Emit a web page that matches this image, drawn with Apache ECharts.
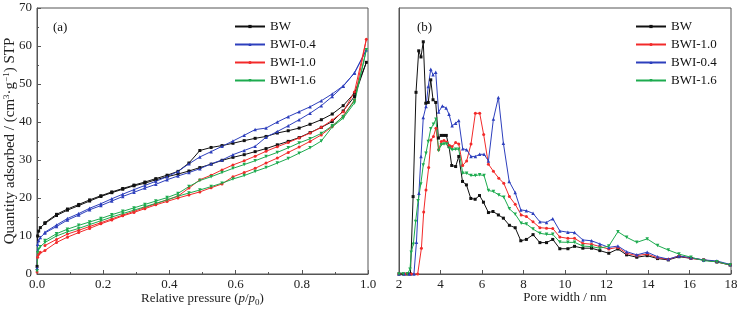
<!DOCTYPE html>
<html>
<head>
<meta charset="utf-8">
<script src="https://cdn.jsdelivr.net/npm/echarts@6/dist/echarts.min.js"></script>
<style>
html, body { margin: 0; padding: 0; background: #fff; }
#chartDiv { width: 741px; height: 309px; }
</style>
</head>
<body>
<div id="chartDiv"></div>
<script>
// (a) 吸附等温线：吸附支压力点
const pAds = [0.0002, 0.002, 0.005, 0.01, 0.024, 0.059, 0.092, 0.126, 0.159, 0.193, 0.226, 0.259, 0.293, 0.326, 0.359, 0.393, 0.426, 0.459, 0.492, 0.526, 0.559, 0.592, 0.626, 0.659, 0.692, 0.726, 0.759, 0.792, 0.825, 0.859, 0.892, 0.925, 0.959, 0.995]
// 脱附支压力点（从高到低）
const pDes = [0.959, 0.925, 0.892, 0.859, 0.825, 0.792, 0.759, 0.726, 0.692, 0.659, 0.626, 0.592, 0.559, 0.526, 0.492, 0.459, 0.426, 0.393, 0.359, 0.326, 0.293, 0.259, 0.226, 0.193, 0.159, 0.126, 0.092, 0.059, 0.024]

const bwAds = [2.0, 10.0, 11.3, 12.2, 13.3, 15.4, 16.8, 18.0, 19.2, 20.4, 21.4, 22.3, 23.2, 23.9, 24.8, 25.6, 26.3, 27.1, 28.0, 28.9, 29.9, 30.7, 31.4, 32.2, 33.0, 34.0, 34.9, 35.9, 37.2, 38.6, 40.1, 42.9, 46.7, 55.7]
const bwDes = [47.6, 44.3, 42.1, 40.6, 39.4, 38.4, 37.7, 37.1, 36.2, 35.7, 35.1, 34.4, 33.8, 33.3, 32.5, 29.2, 27.0, 26.0, 25.1, 24.2, 23.4, 22.5, 21.6, 20.6, 19.5, 18.3, 17.1, 15.7, 13.5]

const bwi04Ads = [1.5, 7.8, 8.8, 9.6, 10.8, 12.5, 14.2, 15.5, 16.9, 18.0, 19.2, 20.4, 21.5, 22.6, 23.6, 24.8, 25.8, 26.7, 27.7, 29.0, 30.0, 31.4, 32.5, 33.6, 36.0, 37.5, 39.0, 40.6, 42.3, 44.3, 46.7, 49.4, 52.9, 59.0]
const bwi04Des = [52.9, 49.5, 47.4, 45.6, 44.0, 42.7, 41.4, 40.0, 38.4, 38.0, 36.5, 35.0, 33.6, 32.2, 30.8, 29.0, 27.0, 25.6, 24.4, 23.3, 22.2, 21.0, 19.8, 18.5, 17.3, 15.9, 14.6, 12.9, 11.0]

const bwi10Ads = [0.5, 4.4, 5.2, 5.7, 6.2, 8.3, 9.7, 10.9, 12.0, 13.2, 14.2, 15.3, 16.2, 17.2, 18.2, 19.1, 20.0, 20.8, 21.6, 22.7, 23.7, 25.6, 26.7, 27.8, 29.2, 30.5, 32.0, 33.4, 34.9, 36.6, 38.8, 41.6, 45.8, 61.8]
const bwi10Des = [47.9, 42.7, 40.5, 38.6, 37.1, 35.8, 34.6, 33.5, 32.3, 31.0, 29.8, 28.7, 27.4, 26.0, 24.8, 22.6, 20.5, 19.5, 18.5, 17.5, 16.5, 15.5, 14.5, 13.5, 12.5, 11.5, 10.5, 9.1, 7.5]

const bwi16Ads = [0.8, 5.6, 6.5, 7.2, 8.3, 10.0, 11.1, 12.0, 13.0, 14.0, 15.0, 15.9, 16.8, 17.7, 18.6, 19.5, 20.5, 21.3, 22.1, 23.0, 23.9, 25.0, 25.9, 27.0, 28.0, 29.2, 30.4, 31.8, 33.2, 35.0, 38.7, 41.0, 45.0, 59.0]
const bwi16Des = [45.6, 41.4, 39.0, 37.0, 35.6, 34.5, 33.2, 32.0, 30.9, 29.8, 28.8, 27.8, 26.7, 25.6, 24.6, 23.0, 21.2, 20.1, 19.2, 18.3, 17.4, 16.5, 15.6, 14.6, 13.7, 12.8, 11.8, 10.6, 8.8]

// (b) 孔径分布
const bwW = [2.0, 2.2, 2.4, 2.55, 2.68, 2.82, 2.95, 3.06, 3.17, 3.29, 3.41, 3.53, 3.64, 3.77, 3.90, 4.03, 4.15, 4.28, 4.41, 4.54, 4.73, 4.88, 5.06, 5.25, 5.46, 5.67, 5.88, 6.07, 6.31, 6.53, 6.79, 7.03, 7.32, 7.60, 7.87, 8.14, 8.46, 8.79, 9.11, 9.41, 9.75, 10.14, 10.46, 10.86, 11.28, 11.68, 12.11, 12.55, 12.97, 13.46, 13.96, 14.46, 14.98, 15.49, 16.07, 16.68, 17.32, 17.96]
const bwPsd = [0, 0, 0, 0, 29.1, 68.3, 83.9, 81.6, 87.3, 64.2, 64.5, 73.0, 65.5, 64.5, 51.1, 52.1, 52.1, 52.1, 47.9, 40.8, 40.4, 44.2, 34.8, 33.5, 28.4, 28.1, 29.5, 27.0, 23.1, 23.5, 22.2, 21.0, 18.3, 17.4, 12.5, 13.0, 14.8, 11.8, 11.8, 13.0, 9.5, 9.5, 10.4, 9.7, 9.7, 8.8, 7.8, 9.4, 7.2, 6.3, 6.9, 5.8, 5.3, 6.5, 5.9, 5.3, 4.5, 3.4]

const bwi10W = [2.0, 2.3, 2.6, 2.9, 3.08, 3.19, 3.30, 3.43, 3.54, 3.66, 3.78, 3.91, 4.04, 4.17, 4.30, 4.43, 4.56, 4.73, 4.88, 5.07, 5.26, 5.47, 5.68, 5.89, 6.08, 6.31, 6.55, 6.81, 7.05, 7.32, 7.60, 7.89, 8.14, 8.46, 8.79, 9.11, 9.41, 9.75, 10.14, 10.46, 10.86, 11.28, 11.68, 12.11, 12.55, 12.97, 13.46, 13.96, 14.46, 14.98, 15.49, 16.07, 16.68, 17.32, 17.96]
const bwi10Psd = [0, 0, 0, 0, 9.7, 23.3, 31.6, 40.0, 50.4, 51.7, 54.8, 46.7, 49.8, 50.2, 49.6, 48.3, 47.9, 49.4, 48.9, 40.8, 42.5, 48.9, 60.4, 60.4, 52.4, 41.3, 38.6, 36.0, 34.1, 29.1, 26.2, 22.2, 21.6, 19.6, 17.4, 17.2, 17.1, 13.9, 13.4, 13.4, 11.5, 11.2, 10.3, 9.4, 10.0, 7.8, 6.9, 7.5, 6.1, 5.5, 6.8, 5.9, 5.3, 4.6, 3.4]

const bwi04W = [2.0, 2.25, 2.5, 2.72, 2.84, 2.96, 3.06, 3.17, 3.30, 3.41, 3.53, 3.64, 3.77, 3.91, 4.09, 4.27, 4.41, 4.56, 4.73, 4.88, 5.07, 5.26, 5.47, 5.68, 5.89, 6.10, 6.31, 6.55, 6.79, 7.03, 7.31, 7.60, 7.87, 8.14, 8.46, 8.79, 9.11, 9.41, 9.75, 10.14, 10.46, 10.86, 11.28, 11.68, 12.11, 12.55, 12.97, 13.46, 13.96, 14.46, 14.98, 15.49, 16.07, 16.68, 17.32, 17.96]
const bwi04Psd = [0, 0, 0, 0, 11.9, 30.4, 44.2, 58.8, 63.0, 70.5, 77.0, 74.9, 75.8, 60.9, 63.2, 62.4, 60.1, 55.7, 56.7, 57.7, 47.1, 46.7, 44.2, 44.2, 45.0, 45.0, 42.5, 58.3, 66.4, 49.2, 34.8, 30.6, 24.1, 23.8, 22.8, 19.6, 19.4, 20.8, 16.2, 15.7, 15.6, 12.8, 12.5, 11.3, 10.0, 10.5, 8.4, 7.2, 8.2, 6.5, 5.6, 6.8, 6.1, 5.3, 4.9, 3.6]

const bwi16W = [2.0, 2.2, 2.4, 2.53, 2.59, 2.69, 2.80, 2.92, 3.05, 3.17, 3.30, 3.41, 3.53, 3.66, 3.78, 3.91, 4.04, 4.17, 4.30, 4.43, 4.56, 4.73, 4.88, 5.07, 5.26, 5.47, 5.68, 5.89, 6.10, 6.31, 6.55, 6.81, 7.05, 7.32, 7.60, 7.89, 8.14, 8.46, 8.79, 9.11, 9.41, 9.75, 10.14, 10.46, 10.86, 11.28, 11.68, 12.11, 12.55, 12.97, 13.46, 13.96, 14.46, 14.98, 15.49, 16.07, 16.68, 17.32, 17.96]
const bwi16Psd = [0, 0, 0, 1.8, 8.2, 11.2, 19.7, 27.5, 33.8, 41.0, 45.4, 49.8, 54.6, 56.3, 58.2, 46.4, 48.6, 48.9, 48.9, 47.3, 46.7, 46.9, 46.9, 37.9, 37.9, 37.0, 37.0, 37.3, 37.0, 31.4, 31.0, 29.7, 28.9, 24.5, 22.5, 19.1, 18.8, 16.9, 15.3, 14.9, 14.9, 12.0, 11.9, 11.9, 10.5, 10.3, 9.7, 10.5, 15.9, 13.8, 11.9, 13.2, 10.7, 9.0, 7.5, 6.3, 5.0, 4.6, 3.4]

const colorBW = '#111111'
const colorRed = '#f22a2a'
const colorBlue = '#2d3fbd'
const colorGreen = '#1dab4f'
const serif = 'Liberation Serif'

// 吸附 + 脱附拼成一条回线
let loop = (ads, des) => {
	const arr = []
	pAds.forEach((p, i) => arr.push([p, ads[i]]))
	pDes.forEach((p, i) => arr.push([p, des[i]]))
	return arr
}
let pairs = (xs, ys) => xs.map((x, i) => [x, ys[i]])

let makeSeries = (name, color, symbol, rotate, size, data, idx) => ({
	name: name,
	type: 'line',
	xAxisIndex: idx,
	yAxisIndex: idx,
	data: data,
	symbol: symbol,
	symbolRotate: rotate,
	symbolSize: size,
	showSymbol: true,
	lineStyle: { width: 1, color: color },
	itemStyle: { color: color },
	emphasis: { disabled: true },
	animation: false
})

let chart = echarts.init(document.getElementById(`chartDiv`))
let axisCommon = {
	axisLine: { show: true, lineStyle: { color: '#555', width: 1 } },
	axisTick: { show: true, inside: true, length: 4, lineStyle: { color: '#555' } },
	minorTick: { show: true, splitNumber: 2, length: 2, lineStyle: { color: '#555' } },
	splitLine: { show: false },
	axisLabel: { color: '#222', fontFamily: serif, fontSize: 13 }
}
let legendCommon = {
	orient: 'vertical',
	itemWidth: 30,
	itemHeight: 4,
	itemGap: 5,
	textStyle: { fontFamily: serif, fontSize: 13, color: '#111' }
}

let option = {
	backgroundColor: '#fff',
	grid: [
		{ left: 37, right: 373, top: 8, bottom: 35, containLabel: false, outerBoundsMode: 'none', show: true, borderColor: '#555', borderWidth: 1 },
		{ left: 399, right: 10, top: 8, bottom: 35, containLabel: false, outerBoundsMode: 'none', show: true, borderColor: '#555', borderWidth: 1 }
	],
	title: [
		{ text: '(a)', left: 48, top: 16, textStyle: { fontFamily: serif, fontSize: 13, fontWeight: 'normal', color: '#111' } },
		{ text: '(b)', left: 412, top: 16, textStyle: { fontFamily: serif, fontSize: 13, fontWeight: 'normal', color: '#111' } }
	],
	legend: [
		Object.assign({ left: 229, top: 15, data: ['BW', 'BWI-0.4', 'BWI-1.0', 'BWI-1.6'] }, legendCommon),
		Object.assign({ left: 630, top: 15, data: ['BW', 'BWI-1.0', 'BWI-0.4', 'BWI-1.6'] }, legendCommon)
	],
	xAxis: [
		Object.assign({}, axisCommon, {
			gridIndex: 0, type: 'value', min: 0, max: 1, interval: 0.2,
			axisLabel: Object.assign({}, axisCommon.axisLabel, { formatter: (v) => v.toFixed(1), margin: 4 }),
			name: '{n|Relative pressure (}{i|p}{n|/}{i|p}{s|0}{n|)}',
			nameLocation: 'middle',
			nameGap: 17,
			nameMoveOverlap: false,
			nameTextStyle: {
				rich: {
					n: { fontFamily: serif, fontSize: 13, color: '#222' },
					i: { fontFamily: serif, fontSize: 13, fontStyle: 'italic', color: '#222' },
					s: { fontFamily: serif, fontSize: 9, color: '#222', padding: [7, 0, 0, 0] }
				}
			}
		}),
		Object.assign({}, axisCommon, {
			gridIndex: 1, type: 'value', min: 2, max: 18, interval: 2,
			axisLabel: Object.assign({}, axisCommon.axisLabel, { margin: 4 }),
			minorTick: { show: false },
			name: 'Pore width / nm',
			nameLocation: 'middle',
			nameGap: 17,
			nameMoveOverlap: false,
			nameTextStyle: { fontFamily: serif, fontSize: 13, color: '#222' }
		})
	],
	yAxis: [
		Object.assign({}, axisCommon, {
			gridIndex: 0, type: 'value', min: 0, max: 70, interval: 10,
			axisLabel: Object.assign({}, axisCommon.axisLabel, { margin: 5 }),
			name: '{n|Quantity adsorbed / (cm}{u|3}{n|·g}{u|−1}{n|) STP}',
			nameLocation: 'middle',
			nameGap: 19,
			nameMoveOverlap: false,
			nameRotate: 90,
			nameTextStyle: {
				rich: {
					n: { fontFamily: serif, fontSize: 15, color: '#222' },
					u: { fontFamily: serif, fontSize: 9, color: '#222', padding: [0, 0, 7, 0] }
				}
			}
		}),
		{
			gridIndex: 1, type: 'value', min: 0, max: 100,
			axisLine: { show: true, lineStyle: { color: '#555', width: 1 } },
			axisTick: { show: false },
			axisLabel: { show: false },
			splitLine: { show: false }
		}
	],
	series: [
		makeSeries('BW', colorBW, 'rect', 0, 3, loop(bwAds, bwDes), 0),
		makeSeries('BWI-0.4', colorBlue, 'triangle', 0, 3.5, loop(bwi04Ads, bwi04Des), 0),
		makeSeries('BWI-1.0', colorRed, 'circle', 0, 3, loop(bwi10Ads, bwi10Des), 0),
		makeSeries('BWI-1.6', colorGreen, 'triangle', 180, 3.5, loop(bwi16Ads, bwi16Des), 0),
		makeSeries('BW', colorBW, 'rect', 0, 3, pairs(bwW, bwPsd), 1),
		makeSeries('BWI-1.0', colorRed, 'circle', 0, 3, pairs(bwi10W, bwi10Psd), 1),
		makeSeries('BWI-0.4', colorBlue, 'triangle', 0, 3.5, pairs(bwi04W, bwi04Psd), 1),
		makeSeries('BWI-1.6', colorGreen, 'triangle', 180, 3.5, pairs(bwi16W, bwi16Psd), 1)
	]
}
chart.setOption(option)
</script>
</body>
</html>
